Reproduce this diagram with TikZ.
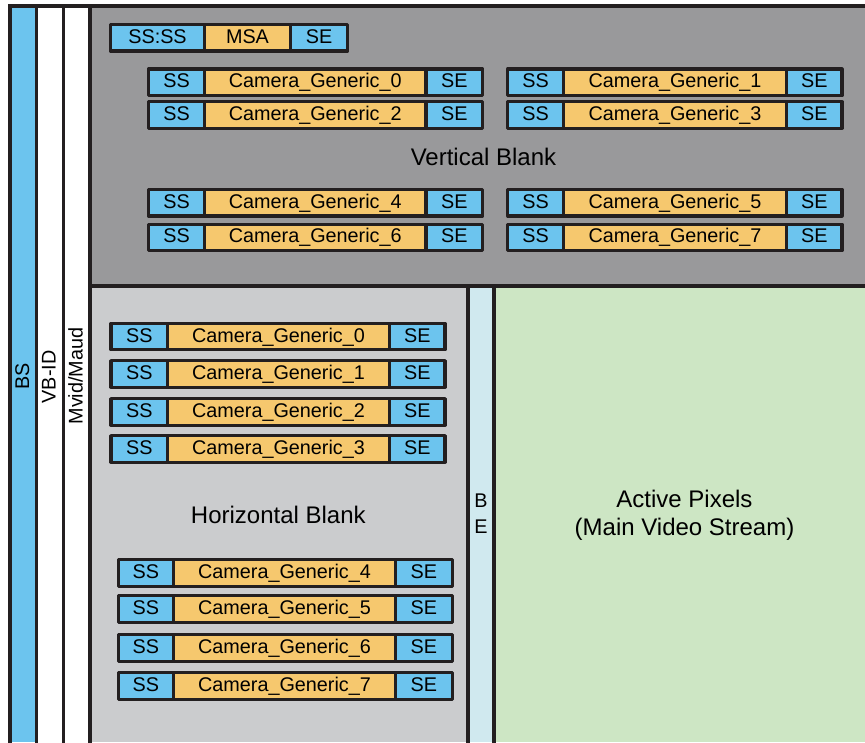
\documentclass[tikz,border=0pt]{standalone}
\usepackage{fontspec}
\setmainfont{Liberation Sans}
\definecolor{lineink}{RGB}{35,31,32}
\definecolor{pktblue}{RGB}{108,196,238}
\definecolor{pktyellow}{RGB}{246,200,110}
\definecolor{vbgray}{RGB}{153,153,155}
\definecolor{hbgray}{RGB}{203,204,206}
\definecolor{belight}{RGB}{208,233,239}
\definecolor{activegreen}{RGB}{205,230,196}
\newcommand\pktfont{\fontsize{19.8}{22}\selectfont}
\newcommand\titlefont{\fontsize{24}{28}\selectfont}
% one secondary-data packet: SS-type header, payload, SE trailer
% #1 name, #2 left, #3 first split, #4 second split, #5 right, #6 top, #7 header, #8 payload
\newcommand\pkt[8]{%
  \node[cellb, anchor=north west, minimum width={#3-#2}] (#1h) at (#2,#6) {#7};
  \node[celly, anchor=north west, minimum width={#4-#3}] (#1p) at (#3,#6) {#8};
  \node[cellb, anchor=north west, minimum width={#5-#4}] (#1t) at (#4,#6) {SE};
}
\begin{document}
\begin{tikzpicture}[x=1pt,y=-1pt,
  ink/.style={draw=lineink, line width=3.5pt},
  cell/.style={draw=lineink, line width=3.2pt, line join=round, inner sep=0pt,
    outer sep=0pt, minimum height=26.5pt, text height=14pt, text depth=3pt,
    font=\pktfont},
  cellb/.style={cell, fill=pktblue},
  celly/.style={cell, fill=pktyellow},
  title/.style={inner sep=0pt, text height=17pt, text depth=0pt, font=\titlefont},
  side/.style={rotate=90, inner sep=0pt, text height=14pt, text depth=3pt, font=\pktfont}]
\useasboundingbox (0,0) rectangle (865,742);

% regions
\fill[pktblue] (10,6) rectangle (36.5,742);
\fill[vbgray] (90,6) rectangle (865,285.8);
\fill[hbgray] (90,285.8) rectangle (468,742);
\fill[belight] (468,285.8) rectangle (494.2,742);
\fill[activegreen] (494.2,285.8) rectangle (865,742);

% frame lines
\draw[ink, line width=3.7pt] (10,750) -- (10,6) -- (875,6);
\draw[ink, line width=3.3pt] (36.5,6) -- (36.5,750);
\draw[ink, line width=3.3pt] (63.3,6) -- (63.3,750);
\draw[ink, line width=3.3pt] (90,6) -- (90,750);
\draw[ink, line width=4pt] (90,285.8) -- (875,285.8);
\draw[ink] (468,285.8) -- (468,750);
\draw[ink] (494.2,285.8) -- (494.2,750);

% side labels
\node[side] (bs) at (23.5,376) {BS};
\node[side] (vbid) at (50,377) {VB-ID};
\node[side] (mvid) at (77,376) {Mvid/Maud};

% vertical blank packets
\pkt{msa}{110.5}{204.5}{290.5}{347.5}{24.5}{SS:SS}{MSA}
\pkt{va}{148.5}{204.5}{426}{482.7}{69}{SS}{Camera\_Generic\_0}
\pkt{vb}{507.7}{563.5}{786.5}{842}{69}{SS}{Camera\_Generic\_1}
\pkt{vc}{148.5}{204.5}{426}{482.7}{101.7}{SS}{Camera\_Generic\_2}
\pkt{vd}{507.7}{563.5}{786.5}{842}{101.7}{SS}{Camera\_Generic\_3}
\pkt{ve}{148.5}{204.5}{426}{482.7}{189.5}{SS}{Camera\_Generic\_4}
\pkt{vf}{507.7}{563.5}{786.5}{842}{189.5}{SS}{Camera\_Generic\_5}
\pkt{vg}{148.5}{204.5}{426}{482.7}{224.2}{SS}{Camera\_Generic\_6}
\pkt{vh}{507.7}{563.5}{786.5}{842}{224.2}{SS}{Camera\_Generic\_7}

% horizontal blank packets
\pkt{ha}{111}{167.5}{389.5}{445}{323.3}{SS}{Camera\_Generic\_0}
\pkt{hb}{111}{167.5}{389.5}{445}{360.6}{SS}{Camera\_Generic\_1}
\pkt{hc}{111}{167.5}{389.5}{445}{398.6}{SS}{Camera\_Generic\_2}
\pkt{hd}{111}{167.5}{389.5}{445}{435.6}{SS}{Camera\_Generic\_3}
\pkt{he}{118.3}{173.5}{395.5}{452.4}{559.6}{SS}{Camera\_Generic\_4}
\pkt{hf}{118.3}{173.5}{395.5}{452.4}{595.6}{SS}{Camera\_Generic\_5}
\pkt{hg}{118.3}{173.5}{395.5}{452.4}{634.6}{SS}{Camera\_Generic\_6}
\pkt{hh}{118.3}{173.5}{395.5}{452.4}{672.6}{SS}{Camera\_Generic\_7}

% region titles
\node[title] (vbtitle) at (483.5,156.5) {Vertical Blank};
\node[title] (hbtitle) at (278.3,514.5) {Horizontal Blank};
\node[title] (act1) at (684.5,498.5) {Active Pixels};
\node[title] (act2) at (684.5,527) {(Main Video Stream)};
\node[inner sep=0pt, text height=14pt, text depth=0pt, font=\pktfont] (beb) at (481,500) {B};
\node[inner sep=0pt, text height=14pt, text depth=0pt, font=\pktfont] (bee) at (481,526.5) {E};
\end{tikzpicture}
\end{document}
